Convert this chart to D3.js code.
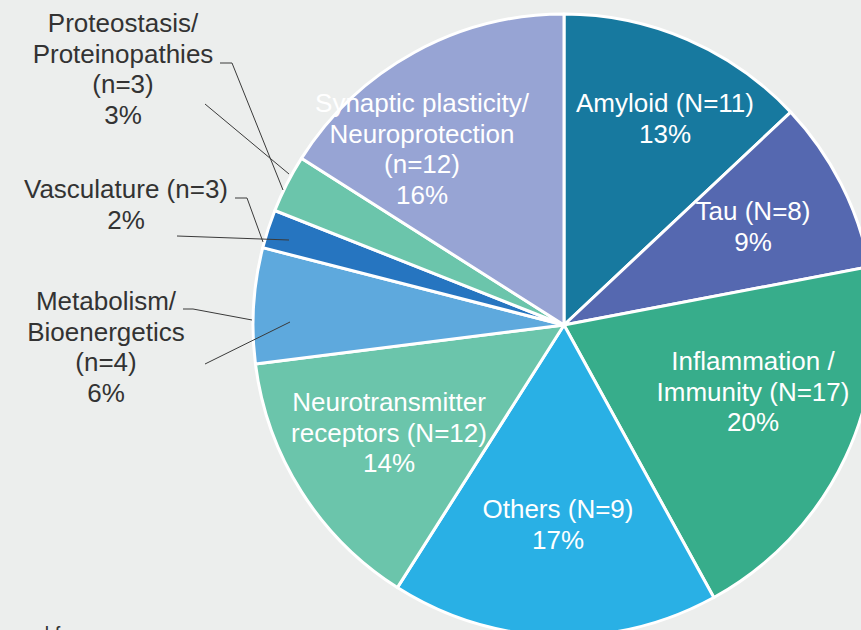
<!DOCTYPE html>
<html>
<head>
<meta charset="utf-8">
<script src="https://cdn.jsdelivr.net/npm/d3@7"></script>
<style>
  html, body { margin: 0; padding: 0; background: #eceeed; }
  svg { display: block; }
  text { font-family: "Liberation Sans", Arial, sans-serif; }
</style>
</head>
<body>
<svg id="chart" width="861" height="630"></svg>
<script>
// Research areas, clockwise from 12 o'clock
const categories = [
  "Amyloid", "Tau", "Inflammation / Immunity", "Others",
  "Neurotransmitter receptors", "Metabolism/ Bioenergetics",
  "Vasculature", "Proteostasis/ Proteinopathies",
  "Synaptic plasticity/ Neuroprotection"
];
const counts = [11, 8, 17, 9, 12, 4, 3, 3, 12];
const percents = [13, 9, 20, 17, 14, 6, 2, 3, 16];
const labelLines = [
  ["Amyloid (N=11)"],
  ["Tau (N=8)"],
  ["Inflammation /", "Immunity (N=17)"],
  ["Others (N=9)"],
  ["Neurotransmitter", "receptors (N=12)"],
  ["Metabolism/", "Bioenergetics", "(n=4)"],
  ["Vasculature (n=3)"],
  ["Proteostasis/", "Proteinopathies", "(n=3)"],
  ["Synaptic plasticity/", "Neuroprotection", "(n=12)"]
];

const colors = ["#17799f", "#5568b0", "#37ad8b", "#29b0e5", "#6bc5ab",
                "#5ea9dd", "#2675c0", "#6bc5ab", "#97a4d4"];

// Label placement: text centre x, first baseline y, inside slice or outside
const labelLayout = [
  { x: 665, y: 112, inside: true },
  { x: 753, y: 220, inside: true },
  { x: 753, y: 370, inside: true },
  { x: 558, y: 518, inside: true },
  { x: 389, y: 411, inside: true },
  { x: 106, y: 310, inside: false },
  { x: 126, y: 198, inside: false },
  { x: 123, y: 32,  inside: false },
  { x: 422, y: 112, inside: true }
];

// Leader lines for the small outside-labelled slices
const leaders = [
  [[220, 63], [232, 63], [283, 190]],
  [[205, 104], [289, 174]],
  [[235, 198], [247, 198], [263, 242]],
  [[177, 236], [289, 240]],
  [[183, 309], [193, 309], [252, 320]],
  [[205, 364], [290, 322]]
];

const cx = 564, cy = 325, radius = 311;
const lineGap = 30.5;
const fontSize = 26;

const svg = d3.select("#chart");

const data = categories.map((c, i) => ({
  name: c, n: counts[i], pct: percents[i], lines: labelLines[i], color: colors[i], pos: labelLayout[i]
}));

const pie = d3.pie().sort(null).value(d => d.pct);
const arc = d3.arc().innerRadius(0).outerRadius(radius);

const g = svg.append("g").attr("transform", `translate(${cx},${cy})`);

g.selectAll("path.slice")
  .data(pie(data))
  .join("path")
  .attr("class", "slice")
  .attr("d", arc)
  .attr("fill", d => d.data.color)
  .attr("stroke", "#ffffff")
  .attr("stroke-width", 3)
  .attr("stroke-linejoin", "round");

// leader lines
const line = d3.line();
svg.append("g")
  .selectAll("path")
  .data(leaders)
  .join("path")
  .attr("d", line)
  .attr("fill", "none")
  .attr("stroke", "#3a3a3a")
  .attr("stroke-width", 1);

// labels
const labels = svg.append("g")
  .selectAll("text")
  .data(data)
  .join("text")
  .attr("text-anchor", "middle")
  .attr("font-size", fontSize)
  .attr("fill", d => d.pos.inside ? "#ffffff" : "#333333");

labels.each(function(d) {
  const t = d3.select(this);
  const all = d.lines.concat([`${d.pct}%`]);
  all.forEach((s, k) => {
    t.append("tspan")
      .attr("x", d.pos.x)
      .attr("y", d.pos.y + k * lineGap)
      .text(s);
  });
});

// caption line running off the bottom edge
svg.append("text")
  .attr("x", 38)
  .attr("y", 641)
  .attr("font-size", 20)
  .attr("fill", "#333333")
  .text("d f");
</script>
</body>
</html>
